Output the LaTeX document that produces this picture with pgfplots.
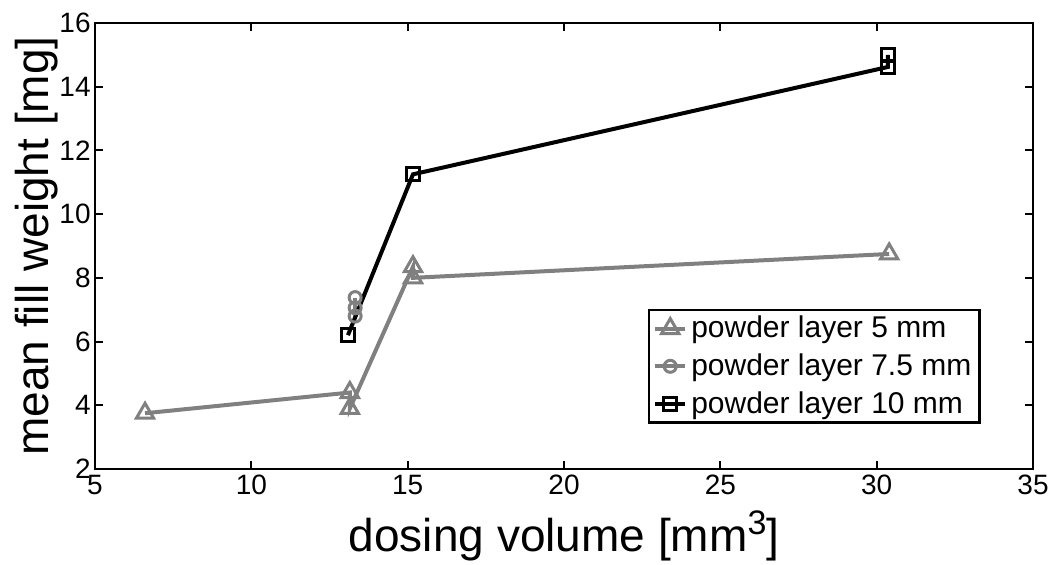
\documentclass[border=0pt]{standalone}
\usepackage{pgfplots}
\pgfplotsset{compat=1.18}
\usepackage{fontspec}
\setmainfont{Liberation Sans}
\definecolor{mgray}{RGB}{128,128,128}
\begin{document}
\begin{tikzpicture}
\begin{axis}[name=ax, scale only axis, width=469pt, height=223pt,
  xmin=5, xmax=35, ymin=2, ymax=16,
  xtick={5,10,...,35}, ytick={2,4,...,16},
  tick align=inside, tick pos=both, major tick length=4pt,
  axis line style={line width=1.2pt},
  every tick/.style={black, line width=1pt},
  /pgf/number format/assume math mode=true,
  tick label style={font=\fontsize{14}{16}\selectfont},
  yticklabel style={inner xsep=0pt, xshift=-2pt},
  xticklabel style={inner ysep=3pt},
  xlabel={dosing volume [mm\raisebox{8.5pt}{\fontsize{17}{17}\selectfont 3}]},
  ylabel={mean fill weight [mg]},
  xlabel style={at={(axis description cs:0.5,-0.0919)}, anchor=north, inner sep=0pt, font=\fontsize{23}{27}\selectfont},
  ylabel style={at={(axis description cs:-0.0394,0.5)}, anchor=south, inner sep=0pt, font=\fontsize{23}{27}\selectfont},
  legend style={at={(axis description cs:0.5896,0.3587)}, anchor=north west, draw=black, line width=1.2pt,
    font=\fontsize{15}{18}\selectfont, inner xsep=2pt, inner ysep=1pt, row sep=2.5pt, cells={anchor=west}},
  legend image code/.code={\draw[mark repeat=2,mark phase=2] plot coordinates {(0pt,0pt)(7.5pt,0pt)(15pt,0pt)};},
]
\addplot[mgray, line width=2pt, mark=triangle, mark size=5pt, mark options={line width=1.5pt, solid}]
  coordinates {(6.6,3.75) (13.15,4.4) (13.15,3.9) (15.17,8.35) (15.17,8.0) (30.4,8.75)};
\addlegendentry{powder layer 5 mm}
\addplot[mgray, line width=2pt, mark=o, mark size=3pt, mark options={line width=1.5pt, solid}]
  coordinates {(13.32,7.38) (13.32,7.06) (13.32,6.8)};
\addlegendentry{powder layer 7.5 mm}
\addplot[black, line width=2pt, mark=square, mark size=3.2pt, mark options={line width=1.5pt, solid}]
  coordinates {(13.09,6.2) (15.17,11.25) (30.36,14.62) (30.36,15.0)};
\addlegendentry{powder layer 10 mm}
\end{axis}
\pgfresetboundingbox
\path ([shift={(-47.5pt,-48pt)}]ax.south west) rectangle ([shift={(9.5pt,11.5pt)}]ax.north east);
\end{tikzpicture}
\end{document}
